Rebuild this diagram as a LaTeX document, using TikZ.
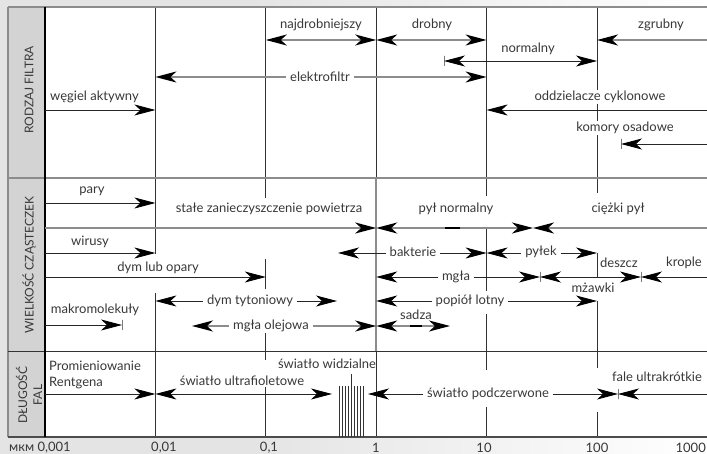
\documentclass[tikz,border=0pt]{standalone}
\usepackage{fontspec}
\setmainfont{Lato}
\usetikzlibrary{arrows.meta}
\definecolor{txt}{HTML}{383838}
\definecolor{hdr}{HTML}{D3D3D3}
\definecolor{bgc}{HTML}{E4E4E4}
\definecolor{lng}{HTML}{8C8C8C}

\begin{document}
\begin{tikzpicture}[x=1pt,y=-1pt,
  >={Stealth[length=21pt,width=11pt,inset=6pt,color=black]},
  lbl/.style={font=\fontsize{13}{16}\selectfont,text=txt,inner sep=1pt},
  inl/.style={lbl,fill=white,inner xsep=4pt,inner ysep=1pt},
  hdrtxt/.style={font=\fontsize{12}{15}\selectfont,text=txt,rotate=90},
  gridln/.style={draw=black!80,line width=0.8pt},
  rng/.style={draw=black!85,line width=0.8pt},
  rngg/.style={draw=lng,line width=1.5pt},
  barmk/.style={draw=black!80,line width=0.8pt,inner sep=0pt,minimum width=0pt,minimum height=10pt},
  dashmk/.style={draw=black,line width=2.5pt},
  frm/.style={draw=lng,line width=2pt}]
\useasboundingbox (0,0) rectangle (707,454);

% background and header column
\fill[bgc] (0,0) rectangle (707,454);
\shade[left color=bgc,right color=white] (250,0) rectangle (707,7);
\shade[left color=bgc,right color=white] (250,437) rectangle (707,454);
\fill[white] (8,7) rectangle (707,437);
\fill[hdr] (8,7) rectangle (45,437);

\node[hdrtxt] (hRF) at (29,90) {RODZAJ FILTRA};
\node[hdrtxt] (hWC) at (29,265) {WIELKOŚĆ CZĄSTECZEK};
\node[hdrtxt,align=center] (hDF) at (29,395) {DŁUGOŚĆ\\FAL};

% grid lines
\foreach \x in {155.4,265.8,376.2,486.6,597}
  \draw[gridln] (\x,7) -- (\x,178);
\draw[gridln] (155.4,178) -- (155.4,254) (155.4,293) -- (155.4,352);
\draw[gridln] (265.8,178) -- (265.8,198) (265.8,259) -- (265.8,289) (265.8,331) -- (265.8,352);
\draw[rngg] (376.2,178) -- (376.2,352);
\draw[gridln] (486.6,178) -- (486.6,196) (486.6,228) -- (486.6,291) (486.6,314) -- (486.6,352);
\draw[gridln] (597,178) -- (597,193) (597,301) -- (597,352);
\draw[gridln] (155.4,352) -- (155.4,437);
\draw[gridln] (265.8,352) -- (265.8,360) (265.8,387) -- (265.8,437);
\draw[gridln] (376.2,352) -- (376.2,437);
\draw[gridln] (486.6,352) -- (486.6,370) (486.6,407) -- (486.6,437);
\draw[gridln] (597,352) -- (597,368) (597,412) -- (597,437);

% frame
\draw[frm] (8,7) -- (707,7);
\draw[frm] (8,7) -- (8,437);
\draw[frm] (8,178) -- (707,178);
\draw[black!80,line width=1pt] (8,352) -- (707,352);
\draw[black!70,line width=1.5pt] (8,437) -- (707,437);
\draw[black,line width=1.4pt] (45,7) -- (45,437);

% rodzaj filtra
\coordinate (ndL) at (265.8,40);
\coordinate (ndR) at (376.2,40);
\coordinate (drR) at (486.6,40);
\coordinate (zgL) at (597,40);
\coordinate (zgR) at (707,40);
\draw[rngg,<->] (ndL) -- (ndR);
\draw[rngg,<->] (ndR) -- (drR);
\draw[rngg,<-] (zgL) -- (zgR);
\node[lbl] (ndT) at (321,25) {najdrobniejszy};
\node[lbl] (drT) at (432,25) {drobny};
\node[lbl] (zgT) at (661,25) {zgrubny};

\coordinate (nmL) at (444,61);
\coordinate (nmR) at (597,61);
\draw[rng,<->] (nmL) -- (nmR);
\node[barmk] (nmB) at (nmL) {};
\node[lbl] (nmT) at (528,49) {normalny};

\coordinate (efL) at (155.4,77);
\coordinate (efR) at (486.6,77);
\draw[rngg,<->] (efL) -- (efR);
\node[inl] (efT) at (320,77) {elektrofiltr};

\coordinate (waL) at (45,110);
\coordinate (waR) at (155.4,110);
\draw[rng,->] (waL) -- (waR);
\node[lbl,anchor=west] (waT) at (49,97) {węgiel aktywny};

\coordinate (ocL) at (486.6,110);
\coordinate (ocR) at (707,110);
\draw[rng,<-] (ocL) -- (ocR);
\node[inl] (ocT) at (600,97) {oddzielacze cyklonowe};

\coordinate (koL) at (621,144);
\coordinate (koR) at (707,144);
\draw[rng,<-] (koL) -- (koR);
\node[barmk] (koB) at (koL) {};
\node[inl] (koT) at (625,128) {komory osadowe};

% wielkosc czasteczek
\coordinate (paL) at (45,203);
\coordinate (paR) at (155.4,203);
\draw[rng,->] (paL) -- (paR);
\node[lbl] (paT) at (92,191) {pary};

\coordinate (szL) at (45,228);
\coordinate (szR) at (376.2,228);
\coordinate (pnR) at (533,228);
\coordinate (cpR) at (707,228);
\draw[rngg,line width=2pt,->] (szL) -- (szR);
\draw[rngg,line width=2pt,<->] (szR) -- (pnR);
\draw[rngg,line width=2pt,<-] (pnR) -- (cpR);
\coordinate (pnD1) at (445,228);
\coordinate (pnD2) at (460,228);
\draw[dashmk] (pnD1) -- (pnD2);
\node[lbl] (szT) at (269,209) {stałe zanieczyszczenie powietrza};
\node[lbl] (pnT) at (456,209) {pył normalny};
\node[lbl] (cpT) at (618,209) {ciężki pył};

\coordinate (wiL) at (45,253);
\coordinate (wiR) at (155.4,253);
\draw[rng,->] (wiL) -- (wiR);
\node[lbl] (wiT) at (90,242) {wirusy};

\coordinate (bkL) at (338,253);
\coordinate (bkR) at (486.6,253);
\coordinate (pkR) at (597,253);
\draw[rng,<->] (bkL) -- (bkR);
\draw[rng,<->] (bkR) -- (pkR);
\node[inl] (bkT) at (413,252) {bakterie};
\node[inl] (pkT) at (541,252) {pyłek};

\coordinate (doL) at (45,277);
\coordinate (doR) at (265.8,277);
\draw[rng,->] (doL) -- (doR);
\node[lbl] (doT) at (158,268) {dym lub opary};

\coordinate (mgL) at (376.2,277);
\coordinate (mgR) at (540,277);
\coordinate (mzR) at (641,277);
\coordinate (krR) at (707,277);
\coordinate (dsB) at (597,277);
\draw[rng,<->] (mgL) -- (mgR);
\draw[rng,<->] (mgR) -- (mzR);
\draw[rng,<-] (mzR) -- (krR);
\draw[gridln] (pkR) -- (dsB);
\node[barmk] (mgB) at (mgR) {};
\node[barmk] (mzB) at (mzR) {};
\node[inl] (mgT) at (456,277) {mgła};
\node[inl] (mzT) at (593,288) {mżawki};
\node[lbl] (dsT) at (619,263) {deszcz};
\node[lbl] (krT) at (684,263) {krople};

\coordinate (dtL) at (155.4,301);
\coordinate (dtR) at (337,301);
\draw[rng,<->] (dtL) -- (dtR);
\node[inl] (dtT) at (250,301) {dym tytoniowy};

\coordinate (ppL) at (376.2,301);
\coordinate (ppR) at (597,301);
\draw[rng,<->] (ppL) -- (ppR);
\node[inl] (ppT) at (470,301) {popiół lotny};

\coordinate (mmL) at (45,325);
\coordinate (mmR) at (122,325);
\draw[rng,->] (mmL) -- (mmR);
\node[barmk] (mmB) at (mmR) {};
\node[lbl] (mmT) at (95,310) {makromolekuły};

\coordinate (moL) at (192,326);
\coordinate (moR) at (376.2,326);
\coordinate (sdR) at (450,326);
\draw[rngg,line width=1.2pt,<->] (moL) -- (moR);
\draw[rngg,line width=1.2pt,<->] (moR) -- (sdR);
\coordinate (sdD1) at (410,326);
\coordinate (sdD2) at (422,326);
\draw[dashmk] (sdD1) -- (sdD2);
\node[inl] (moT) at (271,326) {mgła olejowa};
\node[lbl] (sdT) at (416,315) {sadza};

% dlugosc fal
\coordinate (rgL) at (45,394);
\coordinate (rgR) at (155.4,394);
\coordinate (uvR) at (332,394);
\draw[rng,->] (rgL) -- (rgR);
\draw[rng,<->] (rgR) -- (uvR);
\node[lbl,anchor=west,align=left] (rgT) at (48,375) {Promieniowanie\\Rentgena};
\node[lbl] (uvT) at (242,381) {światło ultrafioletowe};

\foreach \x in {339,342,345,348,354,357,360,363}
  \draw[gridln,line width=0.6pt] (\x,386) -- (\x,437);
\draw[gridln,line width=0.6pt] (351,374) -- (351,437);
\node[lbl] (vsT) at (327,364) {światło widzialne};

\coordinate (irL) at (368,394);
\coordinate (irR) at (618,394);
\coordinate (fuR) at (707,394);
\draw[rng,<->] (irL) -- (irR);
\draw[rng,<-] (irR) -- (fuR);
\node[barmk] (irB) at (irR) {};
\node[inl] (irT) at (488,394) {światło podczerwone};
\node[lbl] (fuT) at (657,377) {fale ultrakrótkie};

% os
\node[lbl,anchor=west] (ax0) at (8,448) {мкм 0,001};
\node[lbl] (ax1) at (164,448) {0,01};
\node[lbl] (ax2) at (269,448) {0,1};
\node[lbl] (ax3) at (376,448) {1};
\node[lbl] (ax4) at (484,448) {10};
\node[lbl] (ax5) at (597,448) {100};
\node[lbl,anchor=east] (ax6) at (707,448) {1000};
\end{tikzpicture}
\end{document}
